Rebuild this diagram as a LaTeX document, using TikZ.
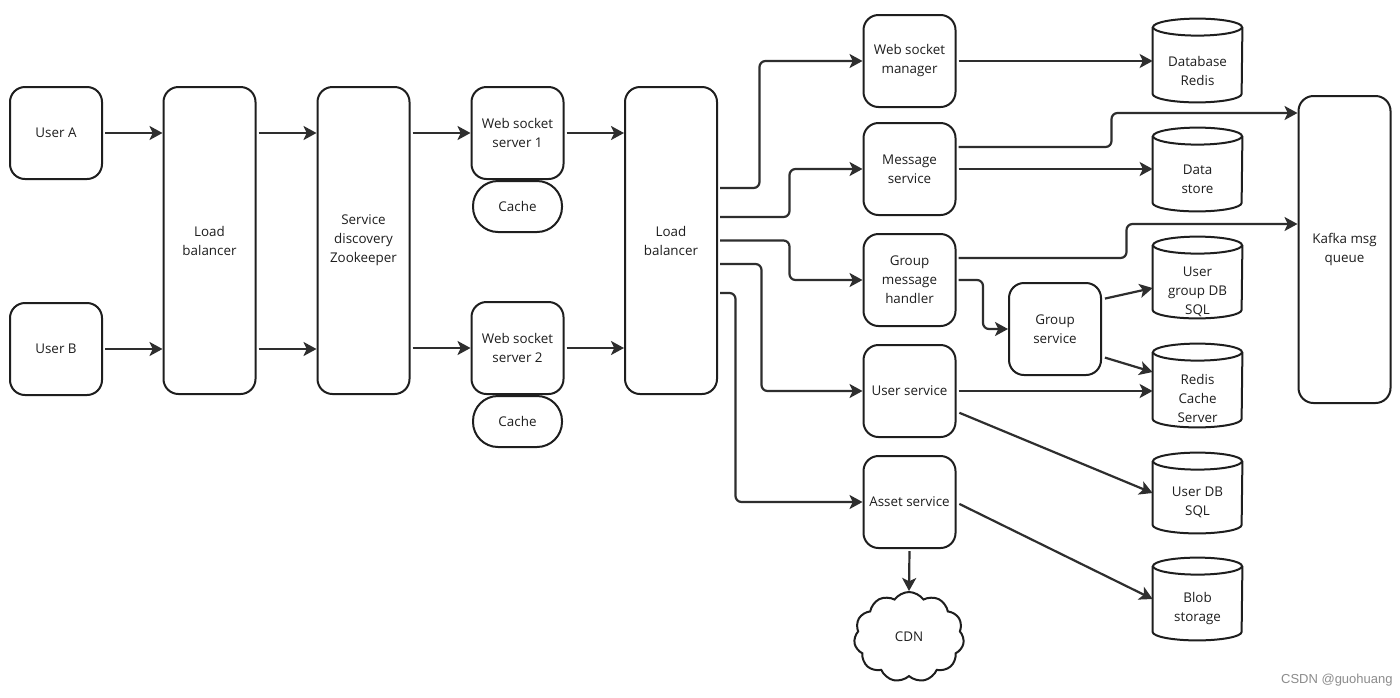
\documentclass[tikz,border=0pt]{standalone}
\usepackage{fontspec}
\setmainfont{Open Sans}
\newfontfamily\wmfont{Liberation Sans}
\usetikzlibrary{shapes.symbols,arrows.meta,calc}
\definecolor{ln}{HTML}{2E2E2E}
\definecolor{bd}{HTML}{1E1E1E}
\newcommand{\dbcyl}[6]{%
  \node[cylbox, minimum height=#4*0.5pt] (#1) at (#2,#3) {};
  \node[lbl] (#1-t) at ($(#1.center)+(0,#6)$) {#5};
  \draw[draw=bd, line width=1pt] ($(#1.north west)+(0,8.5)$) -- ($(#1.south west)+(0,-8.5)$)
     arc[start angle=180,end angle=0,x radius=44.5,y radius=8.5] -- ($(#1.north east)+(0,8.5)$);
  \draw[draw=bd, line width=1pt] ($(#1.north)+(0,8.5)$) ellipse[x radius=44.5, y radius=8.5];
}
\begin{document}
\begin{tikzpicture}[x=0.5pt,y=-0.5pt,
  font=\fontsize{6.7}{9.5}\selectfont, text=bd,
  box/.style={draw=bd, line width=1pt, rounded corners=7.5pt, minimum width=46pt, minimum height=46pt, align=center, inner sep=1pt},
  tall/.style={box, minimum height=153.5pt},
  pill/.style={draw=bd, line width=1pt, rounded corners=12.5pt, minimum width=44.5pt, minimum height=25.5pt, inner sep=1pt},
  cylbox/.style={minimum width=44.5pt, inner sep=0pt},
  lbl/.style={align=center, inner sep=0pt},
  arr/.style={draw=ln, line width=1.1pt, -{Stealth[length=6.5pt,width=7pt,inset=1.6pt]}, shorten <=1pt},
  conn/.style={arr, rounded corners=3pt}
]
\fill[white] (0,0) rectangle (1400,697);
\useasboundingbox (0,0) rectangle (1400,697);

% left part
\node[box] (usera) at (56,133) {User A};
\node[box] (userb) at (56,349) {User B};
\node[tall] (lb1) at (209.5,240.5) {Load\\balancer};
\node[tall] (sd) at (363.5,240.5) {Service\\discovery\\Zookeeper};
\node[box] (ws1) at (517.5,133) {Web socket\\server 1};
\node[pill] (cache1) at (517.5,206.5) {Cache};
\node[box] (ws2) at (517.5,348) {Web socket\\server 2};
\node[pill] (cache2) at (517.5,421.5) {Cache};
\node[tall] (lb2) at (671,240.5) {Load\\balancer};

% services
\node[box] (wsm) at (909.5,61) {Web socket\\manager};
\node[box] (msg) at (909.5,169) {Message\\service};
\node[box] (gmh) at (909.5,280) {Group\\message\\handler};
\node[box] (us) at (909.5,391) {User service};
\node[box] (as) at (909.5,502) {Asset service};
\node[box] (gs) at (1055,329) {Group\\service};
\node[tall] (kafka) at (1344.5,249.5) {Kafka msg\\queue};

% stores
\dbcyl{dbr}{1197.5}{60.5}{83}{Database\\Redis}{10}
\dbcyl{ds}{1197.5}{169.5}{83}{Data\\store}{10}
\dbcyl{ugdb}{1197.5}{277.5}{81}{User\\group DB\\SQL}{14}
\dbcyl{rcs}{1197.5}{385.5}{83}{Redis\\Cache\\Server}{13}
\dbcyl{udb}{1197.5}{493}{80}{User DB\\SQL}{9}
\dbcyl{blob}{1197.5}{599}{82}{Blob\\storage}{10}

\node[draw=bd, line width=1pt, cloud, cloud puffs=11, cloud puff arc=110, cloud ignores aspect,
      minimum width=55pt, minimum height=45pt] (cdn) at (909,637) {CDN};

\node[anchor=east, text=black!45, font=\wmfont\fontsize{6.5}{8}\selectfont, inner sep=0pt] (wm) at (1393,680) {CSDN @guohuang};

% connectors left
\draw[arr] (usera.east) -- (usera.east -| lb1.west);
\draw[arr] (userb.east) -- (userb.east -| lb1.west);
\draw[arr] (lb1.east |- usera.east) -- (sd.west |- usera.east);
\draw[arr] (lb1.east |- userb.east) -- (sd.west |- userb.east);
\draw[arr] (sd.east |- ws1.west) -- (ws1.west);
\draw[arr] (sd.east |- ws2.west) -- (ws2.west);
\draw[arr] (ws1.east) -- (ws1.east -| lb2.west);
\draw[arr] (ws2.east) -- (ws2.east -| lb2.west);

% from load balancer 2
\draw[conn] ($(lb2.east)+(0,-52.5)$) -| ($(wsm.west)+(-103,0)$) -- (wsm.west);
\draw[conn] ($(lb2.east)+(0,-23.5)$) -| ($(msg.west)+(-73,0)$) -- (msg.west);
\draw[conn] (lb2.east) -| ($(gmh.west)+(-73,0)$) -- (gmh.west);
\draw[conn] ($(lb2.east)+(0,23.5)$) -| ($(us.west)+(-101,0)$) -- (us.west);
\draw[conn] ($(lb2.east)+(0,52.5)$) -| ($(as.west)+(-127,0)$) -- (as.west);

% services to stores
\draw[arr] (wsm.east) -- (wsm.east -| dbr.west);
\draw[conn] ($(msg.east)+(0,-22)$) -| ($(kafka.west)+(-186,-136.5)$) -- ($(kafka.west)+(0,-136.5)$);
\draw[arr] (msg.east) -- (msg.east -| ds.west);
\draw[conn] ($(gmh.east)+(0,-22)$) -| ($(kafka.west)+(-171,-25.5)$) -- ($(kafka.west)+(0,-25.5)$);
\draw[conn] (gmh.east) -| ($(gs.west)+(-25,0)$) -- (gs.west);
\draw[arr] ($(gs.east)+(1,-30)$) -- ($(ugdb.west)+(0,10.5)$);
\draw[arr] ($(gs.east)+(1,28)$) -- ($(rcs.west)+(0,-13.5)$);
\draw[arr] (us.east) -- (us.east -| rcs.west);
\draw[arr] ($(us.east)+(1,21)$) -- (udb.west);
\draw[arr] ($(as.east)+(1,1)$) -- (blob.west);
\draw[arr] (as.south) -- (cdn.north);
\end{tikzpicture}
\end{document}
